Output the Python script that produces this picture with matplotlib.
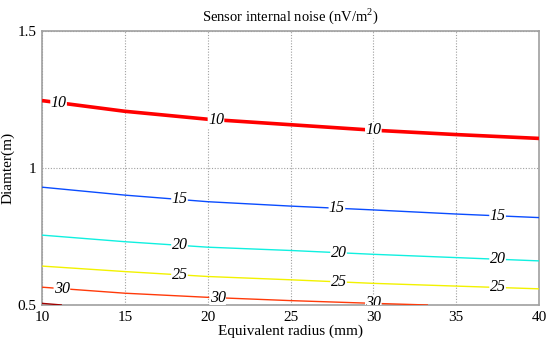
import numpy as np
import matplotlib
matplotlib.use("Agg")
import matplotlib.pyplot as plt

plt.rcParams['font.family'] = ['Liberation Serif', 'DejaVu Serif']
plt.rcParams['mathtext.fontset'] = 'custom'
plt.rcParams['mathtext.rm'] = 'Liberation Serif'

# contour levels (x = radius mm, y = diameter m)
levels = [10, 15, 20, 25, 30, 35]
level_colors = ['#ff0000', '#0a4cff', '#10f0e0', '#f2f200', '#ff3a0a', '#a00000']
level_widths = [2.6, 1.0, 1.0, 1.0, 1.0, 1.0]

x10 = [10, 15, 20, 25, 30, 35, 40]
y10 = [1.246, 1.207, 1.178, 1.158, 1.138, 1.122, 1.108]
x15 = [10, 15, 20, 25, 30, 35, 40]
y15 = [0.930, 0.901, 0.877, 0.861, 0.847, 0.832, 0.819]
x20 = [10, 15, 20, 25, 30, 35, 40]
y20 = [0.755, 0.731, 0.711, 0.699, 0.685, 0.673, 0.661]
x25 = [10, 15, 20, 25, 30, 35, 40]
y25 = [0.642, 0.622, 0.604, 0.592, 0.579, 0.569, 0.559]
x30 = [10, 15, 20, 25, 30, 33.3]
y30 = [0.565, 0.543, 0.528, 0.516, 0.506, 0.500]
x35 = [10, 11.2]
y35 = [0.506, 0.500]
lines_x = [x10, x15, x20, x25, x30, x35]
lines_y = [y10, y15, y20, y25, y30, y35]

# where the inline labels sit
label_x = [[11.0, 20.5, 30.0], [18.3, 27.8, 37.5], [18.3, 27.9, 37.5],
           [18.3, 27.9, 37.5], [11.2, 20.6, 30.0], []]

fig = plt.figure(figsize=(5.5, 3.43), dpi=100)
ax = fig.add_axes([0.0764, 0.1108, 0.9036, 0.7988])

for lev, xs, ys, col, lw, lxs in zip(levels, lines_x, lines_y, level_colors,
                                     level_widths, label_x):
    ax.plot(xs, ys, color=col, lw=lw, zorder=3, solid_capstyle='butt')
    for lx in lxs:
        ly = np.interp(lx, xs, ys)
        # angle of the line on screen
        p0 = ax.transData.transform((lx - 1, np.interp(lx - 1, xs, ys)))
        p1 = ax.transData.transform((lx + 1, np.interp(lx + 1, xs, ys)))
        ang = np.degrees(np.arctan2(p1[1] - p0[1], p1[0] - p0[0]))
        ax.text(lx, ly, str(lev), fontsize=11.5, style='italic', ha='center',
                va='center', rotation=ang, rotation_mode='anchor', zorder=4,
                bbox=dict(facecolor='white', edgecolor='none', pad=0.2),
                clip_on=True)

ax.set_xlim(10, 40)
ax.set_ylim(0.5, 1.5)
ax.set_xticks([10, 15, 20, 25, 30, 35, 40])
ax.set_yticks([0.5, 1, 1.5])
ax.set_yticklabels(['0.5', '1', '1.5'])
ax.grid(True, color='#a0a0a0', linestyle=(0, (1, 1.5)), linewidth=0.8)
ax.tick_params(labelsize=11, length=0, pad=4)
for s in ax.spines.values():
    s.set_color('#a0a0a0')
    s.set_linewidth(1.2)

ax.set_title('Sensor internal noise (nV/m$^2$)', fontsize=10.5, pad=7)
ax.set_xlabel('Equivalent radius (mm)', fontsize=11, labelpad=1)
ax.set_ylabel('Diamter(m)', fontsize=11, labelpad=2)

fig.savefig('out.png', dpi=100)
